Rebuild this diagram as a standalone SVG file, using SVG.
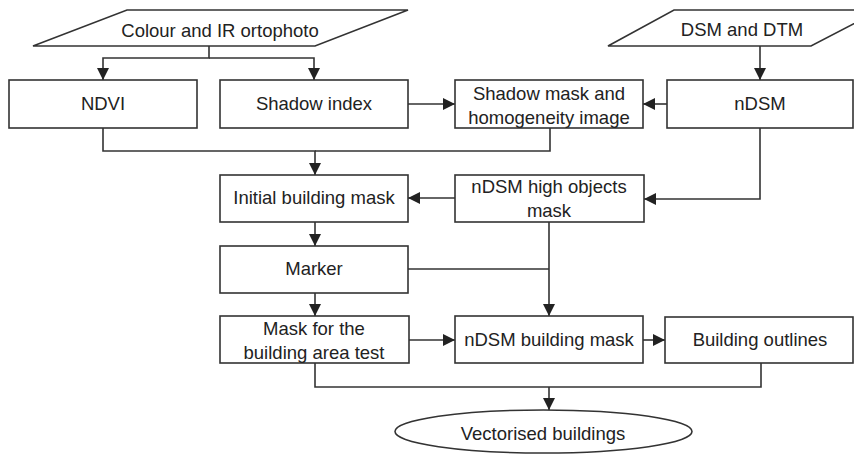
<svg xmlns="http://www.w3.org/2000/svg" width="854" height="454" viewBox="0 0 854 454">
<style>
.box{fill:#fff;stroke:#333;stroke-width:1.6}
.t{font-family:"Liberation Sans",Arial,sans-serif;font-size:18.5px;fill:#222;text-anchor:middle}
.c{fill:none;stroke:#333;stroke-width:1.6}
</style>
<defs>
<marker id="ah" markerUnits="userSpaceOnUse" markerWidth="12" markerHeight="12" refX="12" refY="6" orient="auto">
<path d="M0,0 L12,6 L0,12 z" fill="#222"/>
</marker>
</defs>
<rect width="854" height="454" fill="#fff"/>
<g id="connectors">
<path class="c" d="M209,46 V58 H103 V80" marker-end="url(#ah)"/>
<path class="c" d="M209,58 H314 V80" marker-end="url(#ah)"/>
<path class="c" d="M760,46 V80" marker-end="url(#ah)"/>
<path class="c" d="M408,104 H455" marker-end="url(#ah)"/>
<path class="c" d="M667,104 H643" marker-end="url(#ah)"/>
<path class="c" d="M103,128 V151 H315 V175" marker-end="url(#ah)"/>
<path class="c" d="M550,128 V151 H315"/>
<path class="c" d="M760,128 V199 H644" marker-end="url(#ah)"/>
<path class="c" d="M455,198 H408" marker-end="url(#ah)"/>
<path class="c" d="M315,222 V246" marker-end="url(#ah)"/>
<path class="c" d="M315,293 V316" marker-end="url(#ah)"/>
<path class="c" d="M408,269 H549"/>
<path class="c" d="M549,222 V316" marker-end="url(#ah)"/>
<path class="c" d="M409,340 H455" marker-end="url(#ah)"/>
<path class="c" d="M643,340 H665" marker-end="url(#ah)"/>
<path class="c" d="M315,363 V387 H761 V363"/>
<path class="c" d="M549,387 V410" marker-end="url(#ah)"/>
</g>
<g id="colour-ir">
<polygon class="box" points="127,10 408,10 315,46 33,46"/>
<text class="t" x="220" y="36.5">Colour and IR ortophoto</text>
</g>
<g id="dsm-dtm">
<polygon class="box" points="674,10 880,10 811,46 608,46"/>
<text class="t" x="742" y="36">DSM and DTM</text>
</g>
<g id="ndvi">
<rect class="box" x="9" y="80" width="188" height="48"/>
<text class="t" x="103" y="110">NDVI</text>
</g>
<g id="shadow-index">
<rect class="box" x="220" y="80" width="188" height="48"/>
<text class="t" x="314" y="110">Shadow index</text>
</g>
<g id="shadow-mask">
<rect class="box" x="455" y="80" width="188" height="48"/>
<text class="t" x="549" y="100">Shadow mask and</text>
<text class="t" x="549" y="124">homogeneity image</text>
</g>
<g id="ndsm">
<rect class="box" x="667" y="80" width="186" height="48"/>
<text class="t" x="760" y="110">nDSM</text>
</g>
<g id="initial-mask">
<rect class="box" x="220" y="175" width="188" height="47"/>
<text class="t" x="314" y="204">Initial building mask</text>
</g>
<g id="ndsm-high">
<rect class="box" x="455" y="175" width="189" height="47"/>
<text class="t" x="549" y="193">nDSM high objects</text>
<text class="t" x="549" y="217">mask</text>
</g>
<g id="marker">
<rect class="box" x="220" y="246" width="188" height="47"/>
<text class="t" x="314" y="275">Marker</text>
</g>
<g id="mask-area-test">
<rect class="box" x="220" y="316" width="189" height="47"/>
<text class="t" x="314" y="335">Mask for the</text>
<text class="t" x="314" y="359">building area test</text>
</g>
<g id="ndsm-building">
<rect class="box" x="455" y="316" width="188" height="47"/>
<text class="t" x="549" y="346">nDSM building mask</text>
</g>
<g id="building-outlines">
<rect class="box" x="665" y="317" width="188" height="46"/>
<text class="t" x="760" y="346">Building outlines</text>
</g>
<g id="vectorised">
<ellipse class="box" cx="543.5" cy="431.5" rx="148.5" ry="21.5"/>
<text class="t" x="543" y="440">Vectorised buildings</text>
</g>
</svg>
